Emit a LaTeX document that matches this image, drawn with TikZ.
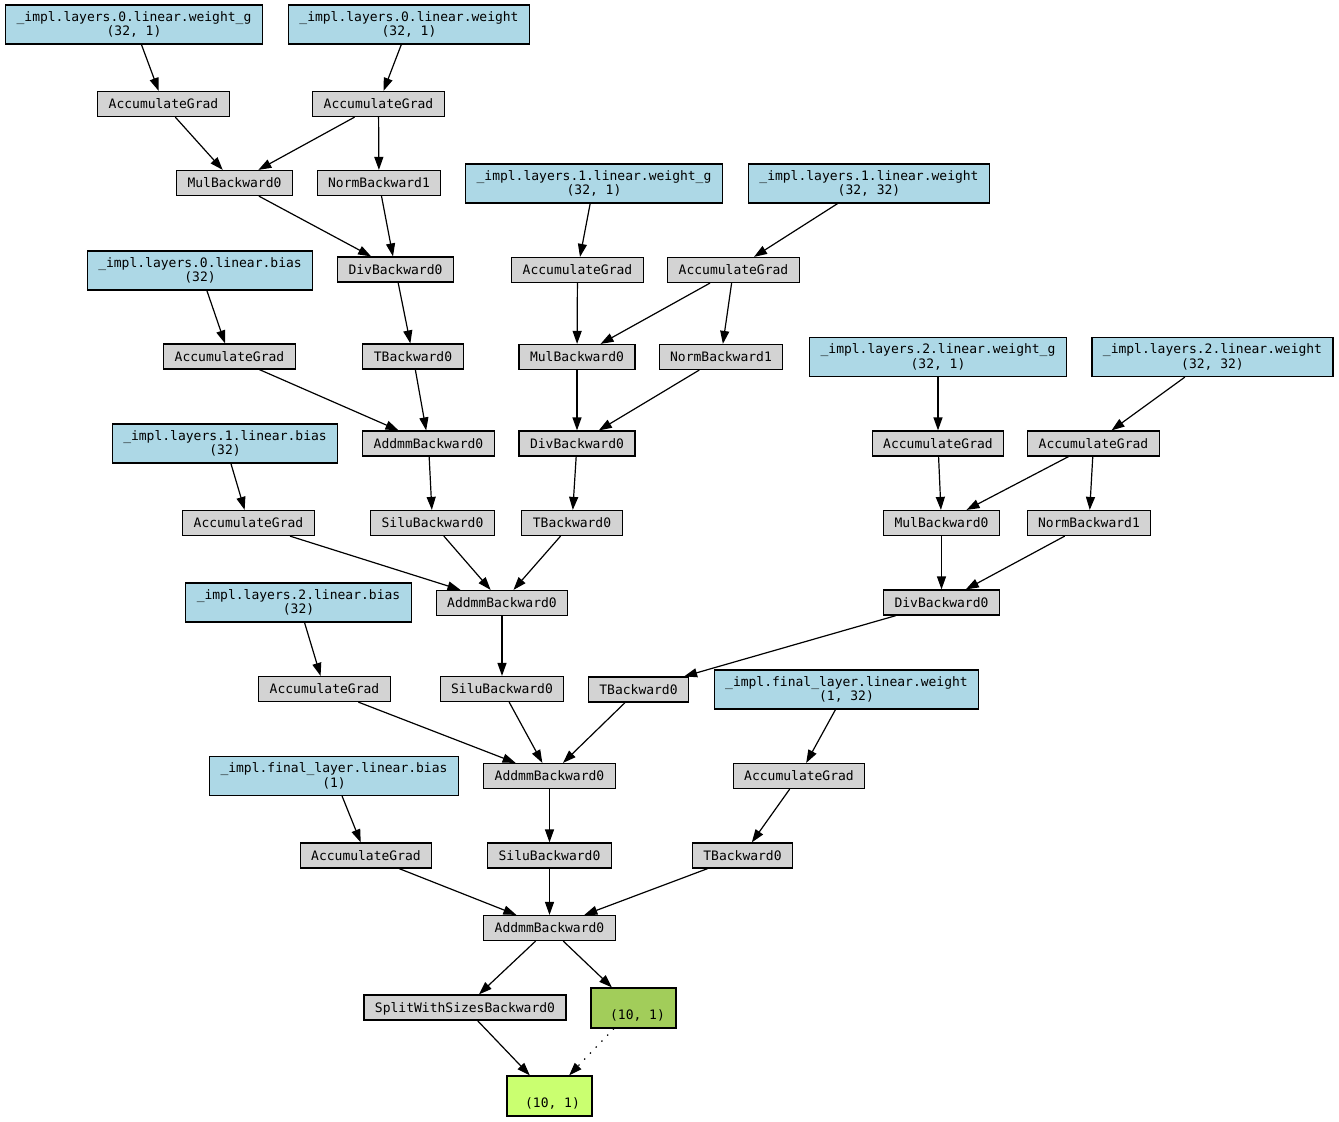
\documentclass[tikz,border=0pt]{standalone}
\usepackage{fontspec}
\setmonofont{DejaVu Sans Mono}
\usetikzlibrary{arrows.meta}
\definecolor{paramblue}{HTML}{ADD8E6}
\definecolor{gradgray}{HTML}{D3D3D3}
\definecolor{savedgreen}{HTML}{A2CD5A}
\definecolor{outgreen}{HTML}{CAFF70}
\tikzset{
  box/.style={draw=black,line width=1.2pt,inner xsep=11pt,inner ysep=0pt},
  grad/.style={box,fill=gradgray,minimum height=25pt,text height=9.5pt,text depth=0pt},
  param/.style={box,fill=paramblue,align=center,minimum height=39pt},
  tens/.style={box,align=center,minimum width=85pt,minimum height=40pt},
}
\begin{document}
\begin{tikzpicture}[x=1pt,y=-1pt,>={Triangle[length=13pt,width=9pt]},line width=1.2pt,
  font=\ttfamily\fontsize{13}{14.3}\selectfont]
	\useasboundingbox (0,0) rectangle (1339,1122);
	\node[param] (w0g) at (134,24.5) {\_impl.layers.0.linear.weight\_g\\(32, 1)};
	\node[param] (w0) at (409,24.5) {\_impl.layers.0.linear.weight\\(32, 1)};
	\node[grad] (ag0g) at (163.5,104) {AccumulateGrad};
	\node[grad] (ag0) at (378.5,104) {AccumulateGrad};
	\node[grad] (mul0) at (234.5,183) {MulBackward0};
	\node[grad] (norm0) at (379,183) {NormBackward1};
	\node[param] (w1g) at (594,183.5) {\_impl.layers.1.linear.weight\_g\\(32, 1)};
	\node[param] (w1) at (869,183.5) {\_impl.layers.1.linear.weight\\(32, 32)};
	\node[param] (b0) at (200,270.5) {\_impl.layers.0.linear.bias\\(32)};
	\node[grad] (div0) at (395.5,269.5) {DivBackward0};
	\node[grad] (ag1g) at (577.5,270) {AccumulateGrad};
	\node[grad] (ag1) at (733.5,270) {AccumulateGrad};
	\node[grad] (agb0) at (229.5,356.5) {AccumulateGrad};
	\node[grad] (t0) at (413,356.5) {TBackward0};
	\node[grad] (mul1) at (577,357) {MulBackward0};
	\node[grad] (norm1) at (721,357) {NormBackward1};
	\node[param] (w2g) at (938,357) {\_impl.layers.2.linear.weight\_g\\(32, 1)};
	\node[param] (w2) at (1212.5,357) {\_impl.layers.2.linear.weight\\(32, 32)};
	\node[param] (b1) at (225,443.5) {\_impl.layers.1.linear.bias\\(32)};
	\node[grad] (addmm0) at (428.5,443.5) {AddmmBackward0};
	\node[grad] (div1) at (577,443.5) {DivBackward0};
	\node[grad] (ag2g) at (938,443.5) {AccumulateGrad};
	\node[grad] (ag2) at (1093.5,443.5) {AccumulateGrad};
	\node[grad] (agb1) at (248.5,523) {AccumulateGrad};
	\node[grad] (silu0) at (432.5,523) {SiluBackward0};
	\node[grad] (t1) at (572,523) {TBackward0};
	\node[grad] (mul2) at (941.5,523) {MulBackward0};
	\node[grad] (norm2) at (1089,523) {NormBackward1};
	\node[param] (b2) at (298.5,602.5) {\_impl.layers.2.linear.bias\\(32)};
	\node[grad] (addmm1) at (502,603) {AddmmBackward0};
	\node[grad] (div2) at (941.5,602.5) {DivBackward0};
	\node[grad] (agb2) at (324.5,689) {AccumulateGrad};
	\node[grad] (silu1) at (502,689) {SiluBackward0};
	\node[grad] (t2) at (638.5,689.5) {TBackward0};
	\node[param] (wf) at (846.5,689.5) {\_impl.final\_layer.linear.weight\\(1, 32)};
	\node[param] (bf) at (334,776) {\_impl.final\_layer.linear.bias\\(1)};
	\node[grad] (addmm2) at (549.5,776) {AddmmBackward0};
	\node[grad] (agwf) at (799,776) {AccumulateGrad};
	\node[grad] (agbf) at (366,855.5) {AccumulateGrad};
	\node[grad] (silu2) at (549.5,855.5) {SiluBackward0};
	\node[grad] (t3) at (742.5,855.5) {TBackward0};
	\node[grad] (addmm3) at (549.5,928) {AddmmBackward0};
	\node[grad] (split) at (465,1007.5) {SplitWithSizesBackward0};
	\node[tens,fill=savedgreen] (saved) at (633.5,1008) {\strut\\\hspace*{8pt}(10, 1)};
	\node[tens,fill=outgreen] (out) at (549.5,1096) {\strut\\\hspace*{6pt}(10, 1)};
	\draw[->] (w0g) -- (ag0g);
	\draw[->] (w0) -- (ag0);
	\draw[->] (ag0g) -- (mul0);
	\draw[->] (ag0) -- (mul0);
	\draw[->] (ag0) -- (norm0);
	\draw[->] (mul0) -- (div0);
	\draw[->] (norm0) -- (div0);
	\draw[->] (div0) -- (t0);
	\draw[->] (w1g) -- (ag1g);
	\draw[->] (w1) -- (ag1);
	\draw[->] (ag1g) -- (mul1);
	\draw[->] (ag1) -- (mul1);
	\draw[->] (ag1) -- (norm1);
	\draw[->] (mul1) -- (div1);
	\draw[->] (norm1) -- (div1);
	\draw[->] (div1) -- (t1);
	\draw[->] (w2g) -- (ag2g);
	\draw[->] (w2) -- (ag2);
	\draw[->] (ag2g) -- (mul2);
	\draw[->] (ag2) -- (mul2);
	\draw[->] (ag2) -- (norm2);
	\draw[->] (mul2) -- (div2);
	\draw[->] (norm2) -- (div2);
	\draw[->] (div2) -- (t2);
	\draw[->] (b0) -- (agb0);
	\draw[->] (agb0) -- (addmm0);
	\draw[->] (t0) -- (addmm0);
	\draw[->] (addmm0) -- (silu0);
	\draw[->] (b1) -- (agb1);
	\draw[->] (agb1) -- (addmm1);
	\draw[->] (silu0) -- (addmm1);
	\draw[->] (t1) -- (addmm1);
	\draw[->] (addmm1) -- (silu1);
	\draw[->] (b2) -- (agb2);
	\draw[->] (agb2) -- (addmm2);
	\draw[->] (silu1) -- (addmm2);
	\draw[->] (t2) -- (addmm2);
	\draw[->] (addmm2) -- (silu2);
	\draw[->] (wf) -- (agwf);
	\draw[->] (agwf) -- (t3);
	\draw[->] (bf) -- (agbf);
	\draw[->] (agbf) -- (addmm3);
	\draw[->] (silu2) -- (addmm3);
	\draw[->] (t3) -- (addmm3);
	\draw[->] (addmm3) -- (split);
	\draw[->] (addmm3) -- (saved);
	\draw[->] (split) -- (out);
	\draw[->,dash pattern=on 1.3pt off 7pt] (saved) -- (out);
\end{tikzpicture}
\end{document}
